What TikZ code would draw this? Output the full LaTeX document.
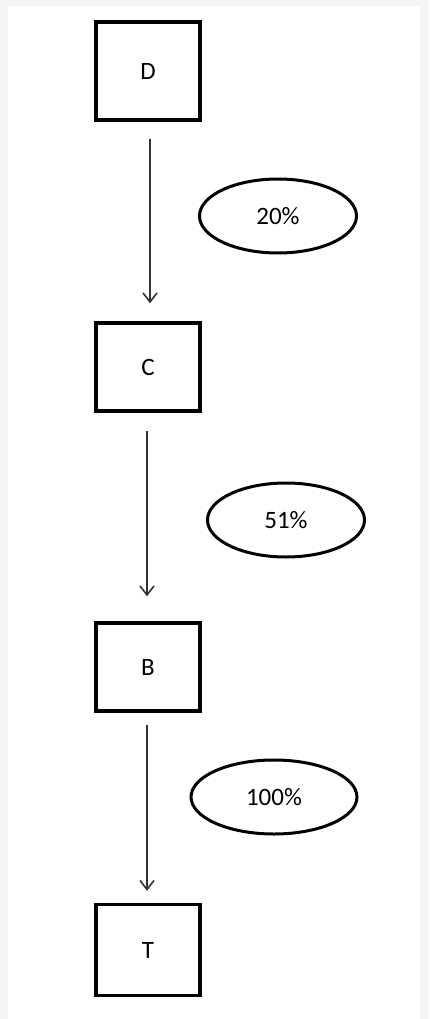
\documentclass[tikz,border=0pt]{standalone}
\usepackage{fontspec}
\setmainfont{Carlito}
\usetikzlibrary{arrows.meta,shapes.geometric}
\begin{document}
\begin{tikzpicture}[x=1pt,y=-1pt,
  box/.style={draw=black,line width=3.5pt,rectangle,minimum width=104pt,minimum height=88pt,inner sep=0pt,font=\fontsize{25}{30}\selectfont},
  pct/.style={draw=black,line width=3pt,ellipse,minimum width=157pt,minimum height=74pt,inner sep=0pt,font=\fontsize{25}{30}\selectfont},
  link/.style={draw=black!80,line width=1.6pt,-{Straight Barb[length=9pt,width=14pt,line width=1.6pt]}}]
\fill[black!4] (0,0) rectangle (429,1019);
\fill[white] (8,6) rectangle (420,1019);
\useasboundingbox (0,0) rectangle (429,1019);
\node[box,minimum height=98pt,minimum width=104pt] (D) at (148,71) {D};
\node[box] (C) at (148,367) {C};
\node[box] (B) at (148,667) {B};
\node[box,minimum height=91pt] (T) at (148,950) {T};
\node[pct] (p1) at (278,216) {20\%};
\node[pct] (p2) at (286,520) {51\%};
\node[pct,minimum width=166pt] (p3) at (274,797) {100\%};
\draw[link,shorten <=17pt,shorten >=18pt] ([xshift=2pt]D.south) -- ([xshift=2pt]C.north);
\draw[link,shorten <=18pt,shorten >=25pt] ([xshift=-1pt]C.south) -- ([xshift=-1pt]B.north);
\draw[link,shorten <=12pt,shorten >=12pt] ([xshift=-1pt]B.south) -- ([xshift=-1pt]T.north);
\end{tikzpicture}
\end{document}
